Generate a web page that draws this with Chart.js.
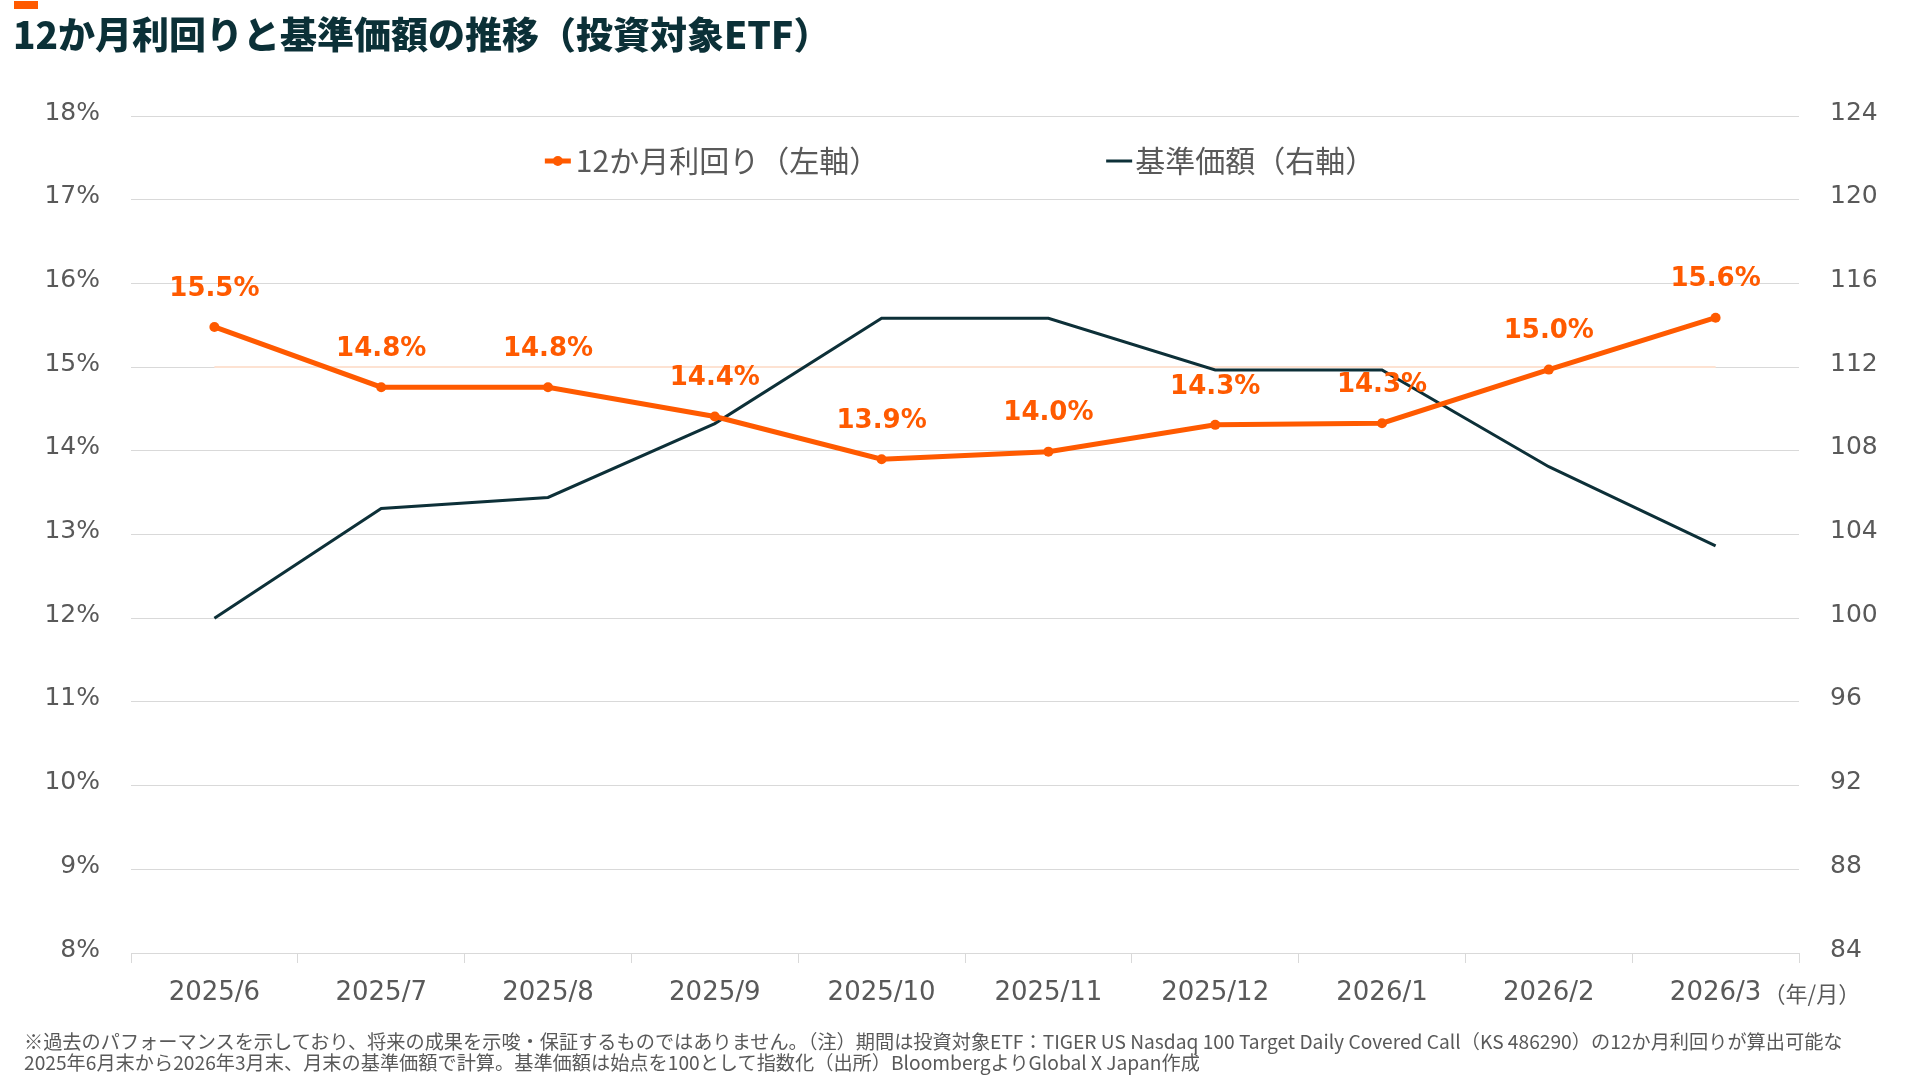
<!DOCTYPE html>
<html lang="ja">
<head>
<meta charset="utf-8">
<title>12か月利回りと基準価額の推移</title>
<script src="https://cdn.jsdelivr.net/npm/chart.js@4.4.1/dist/chart.umd.min.js"></script>
<style>
    html, body { margin: 0; padding: 0; background: #ffffff; }
    #wrap { position: relative; width: 1920px; height: 1081px; overflow: hidden; }
    #mark { position: absolute; left: 14px; top: 1px; width: 24px; height: 8px; background: #ff5a00; }
    #title {
        position: absolute; left: 13px; top: 9px; margin: 0;
        font-family: "Noto Sans CJK JP", sans-serif; font-weight: 900; font-size: 37px;
        color: #0b3037; white-space: nowrap; line-height: 48px;
    }
    #note {
        position: absolute; left: 24px; top: 1031px; margin: 0;
        font-family: "Noto Sans CJK JP", sans-serif; font-size: 19.2px; line-height: 21px;
        color: #595959; white-space: nowrap;
    }
    canvas { position: absolute; left: 0; top: 0; }
</style>
</head>
<body>
<div id="wrap">
    <canvas id="yieldChart" width="1920" height="1081"></canvas>
    <div id="mark"></div>
    <h1 id="title">12か月利回りと基準価額の推移（投資対象ETF）</h1>
    <p id="note">※過去のパフォーマンスを示しており、将来の成果を示唆・保証するものではありません。（注）期間は投資対象ETF：TIGER US Nasdaq 100 Target Daily Covered Call（KS 486290）の12か月利回りが算出可能な<br>2025年6月末から2026年3月末、月末の基準価額で計算。基準価額は始点を100として指数化（出所）BloombergよりGlobal X Japan作成</p>
</div>
<script>
const months = ['2025/6', '2025/7', '2025/8', '2025/9', '2025/10', '2025/11', '2025/12', '2026/1', '2026/2', '2026/3'];
const yieldPct = [15.48, 14.76, 14.76, 14.41, 13.90, 13.99, 14.31, 14.33, 14.97, 15.59];
const navIndex = [100, 105.24, 105.77, 109.3, 114.33, 114.33, 111.86, 111.86, 107.24, 103.46];
const refLine = [15, 15, 15, 15, 15, 15, 15, 15, 15, 15];
const leftTicks = [8, 9, 10, 11, 12, 13, 14, 15, 16, 17, 18];
const rightTicks = [84, 88, 92, 96, 100, 104, 108, 112, 116, 120, 124];

const ORANGE = '#ff5a00';
const TEAL = '#0d3038';
const GRID = '#d9d9d9';
const TEXT = '#595959';

// value labels above the yield points
const pointLabels = {
    id: 'pointLabels',
    afterDatasetsDraw(chart) {
        const meta = chart.getDatasetMeta(0);
        const ctx = chart.ctx;
        ctx.save();
        ctx.font = 'bold 26px "DejaVu Sans"';
        ctx.fillStyle = ORANGE;
        ctx.textAlign = 'center';
        ctx.textBaseline = 'middle';
        meta.data.forEach(function (pt, i) {
            ctx.fillText(yieldPct[i].toFixed(1) + '%', pt.x, pt.y - 38);
        });
        ctx.restore();
    }
};

// legend sits inside the plot area, so draw it by hand
const innerLegend = {
    id: 'innerLegend',
    afterDraw(chart) {
        const ctx = chart.ctx;
        const ds = chart.data.datasets;
        const y = 161;
        const gap = 227;
        ctx.save();
        ctx.font = '30px "Noto Sans CJK JP"';
        ctx.textBaseline = 'middle';
        ctx.textAlign = 'left';
        const w1 = ctx.measureText(ds[0].label).width;
        const w2 = ctx.measureText(ds[1].label).width;
        const total = 26 + 5 + w1 + gap + 26 + 3 + w2;
        let x = chart.width / 2 - total / 2;

        ctx.strokeStyle = ds[0].borderColor;
        ctx.lineWidth = 5;
        ctx.beginPath();
        ctx.moveTo(x, y);
        ctx.lineTo(x + 26, y);
        ctx.stroke();
        ctx.fillStyle = ds[0].borderColor;
        ctx.beginPath();
        ctx.arc(x + 13, y, 5, 0, Math.PI * 2);
        ctx.fill();
        ctx.fillStyle = TEXT;
        ctx.fillText(ds[0].label, x + 31, y);

        x += 31 + w1 + gap;
        ctx.strokeStyle = ds[1].borderColor;
        ctx.lineWidth = 3;
        ctx.beginPath();
        ctx.moveTo(x, y);
        ctx.lineTo(x + 26, y);
        ctx.stroke();
        ctx.fillText(ds[1].label, x + 29, y);

        // unit note after the last month label
        const xs = chart.scales.x;
        ctx.font = '22px "Noto Sans CJK JP"';
        ctx.fillText('（年/月）', xs.getPixelForValue(months.length - 1) + 48, 994);
        ctx.restore();
    }
};

new Chart(document.getElementById('yieldChart').getContext('2d'), {
    type: 'line',
    data: {
        labels: months,
        datasets: [
            {
                label: '12か月利回り（左軸）',
                data: yieldPct,
                yAxisID: 'y',
                borderColor: ORANGE,
                backgroundColor: ORANGE,
                borderWidth: 5,
                pointRadius: 5,
                pointHoverRadius: 5,
                pointBorderWidth: 0,
                tension: 0
            },
            {
                label: '基準価額（右軸）',
                data: navIndex,
                yAxisID: 'y1',
                borderColor: TEAL,
                borderWidth: 3,
                pointRadius: 0,
                tension: 0
            },
            {
                label: '15%',
                data: refLine,
                yAxisID: 'y',
                borderColor: '#fde2d2',
                borderWidth: 2,
                pointRadius: 0,
                tension: 0
            }
        ]
    },
    options: {
        responsive: false,
        animation: false,
        devicePixelRatio: 1,
        layout: { padding: { top: 116, left: 0, right: 0, bottom: 0 } },
        plugins: {
            legend: { display: false },
            tooltip: { enabled: false }
        },
        scales: {
            x: {
                offset: true,
                afterFit: function (scale) { scale.height = 128; },
                grid: {
                    offset: true,
                    drawOnChartArea: false,
                    drawTicks: true,
                    tickLength: 10,
                    color: GRID
                },
                border: { color: GRID, width: 1 },
                ticks: {
                    color: TEXT,
                    padding: 15,
                    font: { family: 'DejaVu Sans', size: 26 },
                    maxRotation: 0,
                    autoSkip: false
                }
            },
            y: {
                position: 'left',
                min: 8,
                max: 18,
                afterFit: function (scale) { scale.width = 131; },
                afterBuildTicks: function (scale) {
                    scale.ticks = leftTicks.map(function (v) { return { value: v }; });
                },
                grid: { color: GRID, drawTicks: false },
                border: { display: false },
                ticks: {
                    color: TEXT,
                    padding: 31,
                    labelOffset: -3,
                    font: { family: 'DejaVu Sans', size: 25 },
                    callback: function (v) { return v + '%'; }
                }
            },
            y1: {
                position: 'right',
                min: 84,
                max: 124,
                afterFit: function (scale) { scale.width = 121; },
                afterBuildTicks: function (scale) {
                    scale.ticks = rightTicks.map(function (v) { return { value: v }; });
                },
                grid: { display: false, drawTicks: false },
                border: { display: false },
                ticks: {
                    color: TEXT,
                    padding: 31,
                    labelOffset: -3,
                    font: { family: 'DejaVu Sans', size: 25 }
                }
            }
        }
    },
    plugins: [pointLabels, innerLegend]
});
</script>
</body>
</html>
